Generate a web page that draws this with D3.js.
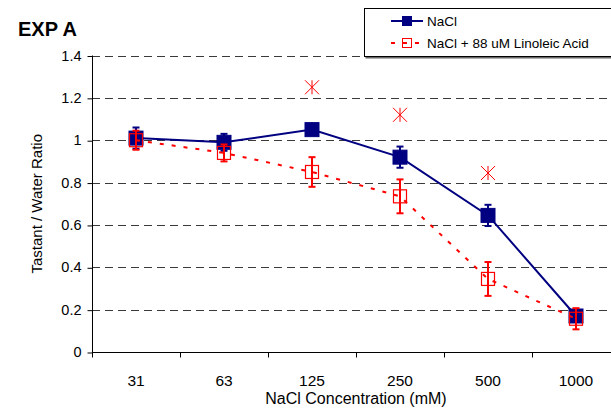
<!DOCTYPE html>
<html>
<head>
<meta charset="utf-8">
<script src="https://cdn.jsdelivr.net/npm/d3@7"></script>
<style>
  body { margin: 0; background: #fff; }
  svg { display: block; font-family: "Liberation Sans", Arial, sans-serif; }
</style>
</head>
<body>
<div id="chart"></div>
<script>
// values
const categories = ["31", "63", "125", "250", "500", "1000"]
const naclValues = [1.01, 0.99, 1.05, 0.92, 0.645, 0.17]
const naclErrors = [0.05, 0.04, 0.02, 0.05, 0.05, 0.02]
const linoleicValues = [1.0, 0.94, 0.85, 0.735, 0.345, 0.157]
const linoleicErrors = [0.045, 0.04, 0.07, 0.08, 0.08, 0.05]
const starCategories = ["125", "250", "500"]
const starValues = [1.25, 1.12, 0.845]
const yTicks = [0, 0.2, 0.4, 0.6, 0.8, 1, 1.2, 1.4]

const width = 611, height = 408,
  margin = {left: 92, right: -9, top: 55.5, bottom: 56},
  navy = "#000080", red = "#ff0000"

const svg = d3.select("#chart").append("svg")
  .attr("width", width).attr("height", height)

const x = d3.scaleBand().domain(categories).range([margin.left, width - margin.right]),
  y = d3.scaleLinear().domain([0, 1.4]).range([height - margin.bottom, margin.top])

// title
svg.append("text").attr("x", 18).attr("y", 36)
  .attr("font-size", 20).attr("font-weight", "bold").text("EXP A")

// gridlines
svg.append("g").selectAll("line").data(yTicks.filter(d => d > 0)).join("line")
  .attr("x1", margin.left).attr("x2", width)
  .attr("y1", d => Math.round(y(d)) + 0.5).attr("y2", d => Math.round(y(d)) + 0.5)
  .attr("stroke", "#3a3a3a").attr("stroke-dasharray", "8,5")

// y axis
const yAxis = svg.append("g").attr("transform", `translate(${margin.left + 0.5},0)`)
  .call(d3.axisLeft(y).tickValues(yTicks).tickFormat(d => d).tickSize(5).tickPadding(6))
yAxis.select(".domain").attr("d", `M0,${y(1.4)}V${y(0)}`)
yAxis.selectAll("line").attr("transform", "translate(0,0.5)")
yAxis.selectAll("text").attr("font-size", 14.5).attr("font-family", "Liberation Sans, Arial, sans-serif")
  .attr("fill", "#000")

// x axis with ticks on category boundaries
const xAxisY = Math.round(y(0)) + 0.5
svg.append("line").attr("x1", margin.left).attr("x2", width)
  .attr("y1", xAxisY).attr("y2", xAxisY).attr("stroke", "#000")
svg.append("g").selectAll("line").data(categories).join("line")
  .attr("x1", d => Math.round(x(d)) + 0.5).attr("x2", d => Math.round(x(d)) + 0.5)
  .attr("y1", xAxisY).attr("y2", xAxisY + 5).attr("stroke", "#000")
svg.append("g").selectAll("text").data(categories).join("text")
  .attr("x", d => x(d) + x.bandwidth() / 2).attr("y", 386)
  .attr("text-anchor", "middle").attr("font-size", 15.5).text(d => d)

// axis titles
svg.append("text").attr("x", (margin.left + width - margin.right) / 2).attr("y", 404)
  .attr("text-anchor", "middle").attr("font-size", 16).text("NaCl Concentration (mM)")
svg.append("text").attr("transform", `translate(42,${(y(0) + y(1.4)) / 2}) rotate(-90)`)
  .attr("text-anchor", "middle").attr("font-size", 15).text("Tastant / Water Ratio")

const cx = d => x(d) + x.bandwidth() / 2

function drawSeries(values, errors, color, filled, dash) {
  const pts = categories.map((c, i) => ({c, v: values[i], e: errors[i]})),
    g = svg.append("g")

  g.append("path").datum(pts)
    .attr("d", d3.line().x(d => cx(d.c)).y(d => y(d.v)))
    .attr("fill", "none").attr("stroke", color).attr("stroke-width", 2)
    .attr("stroke-dasharray", dash)

  const err = g.append("g").selectAll("g").data(pts).join("g")
    .attr("stroke", color).attr("stroke-width", 2)
  err.append("line").attr("x1", d => cx(d.c)).attr("x2", d => cx(d.c))
    .attr("y1", d => y(d.v - d.e)).attr("y2", d => y(d.v + d.e))
  err.selectAll("line.cap").data(d => [d.v - d.e, d.v + d.e].map(v => ({c: d.c, v}))).join("line")
    .attr("class", "cap")
    .attr("x1", d => cx(d.c) - 3.5).attr("x2", d => cx(d.c) + 3.5)
    .attr("y1", d => y(d.v)).attr("y2", d => y(d.v))

  const s = filled ? 14 : 13
  g.append("g").selectAll("rect").data(pts).join("rect")
    .attr("x", d => cx(d.c) - s / 2).attr("y", d => y(d.v) - s / 2)
    .attr("width", s).attr("height", s)
    .attr("fill", filled ? color : "none").attr("stroke", color)
    .attr("stroke-width", filled ? 1 : 1.2)
}

drawSeries(naclValues, naclErrors, navy, true, null)
drawSeries(linoleicValues, linoleicErrors, red, false, "4,8")

// significance stars
svg.append("g").selectAll("path").data(starCategories.map((c, i) => ({c, v: starValues[i]}))).join("path")
  .attr("transform", d => `translate(${cx(d.c)},${y(d.v)})`)
  .attr("d", "M-7,-7L7,7M-7,7L7,-7M0,-7V7")
  .attr("fill", "none").attr("stroke", red).attr("stroke-width", 1)

// legend
const legend = svg.append("g")
legend.append("rect").attr("x", 365.5).attr("y", 10.5).attr("width", 260).attr("height", 48)
  .attr("fill", "#666")
legend.append("rect").attr("x", 364.5).attr("y", 8.5).attr("width", 260).attr("height", 48)
  .attr("fill", "#fff").attr("stroke", "#000")

legend.append("line").attr("x1", 391).attr("x2", 423).attr("y1", 21).attr("y2", 21)
  .attr("stroke", navy).attr("stroke-width", 2)
legend.append("rect").attr("x", 402).attr("y", 16).attr("width", 10).attr("height", 10).attr("fill", navy)
legend.append("text").attr("x", 427).attr("y", 26).attr("font-size", 13.5).text("NaCl")

legend.append("line").attr("x1", 391).attr("x2", 423).attr("y1", 43).attr("y2", 43)
  .attr("stroke", red).attr("stroke-width", 2).attr("stroke-dasharray", "4,8")
legend.append("rect").attr("x", 402.5).attr("y", 38.5).attr("width", 9).attr("height", 9)
  .attr("fill", "none").attr("stroke", red)
legend.append("text").attr("x", 427).attr("y", 48).attr("font-size", 13.5).text("NaCl + 88 uM Linoleic Acid")
</script>
</body>
</html>
